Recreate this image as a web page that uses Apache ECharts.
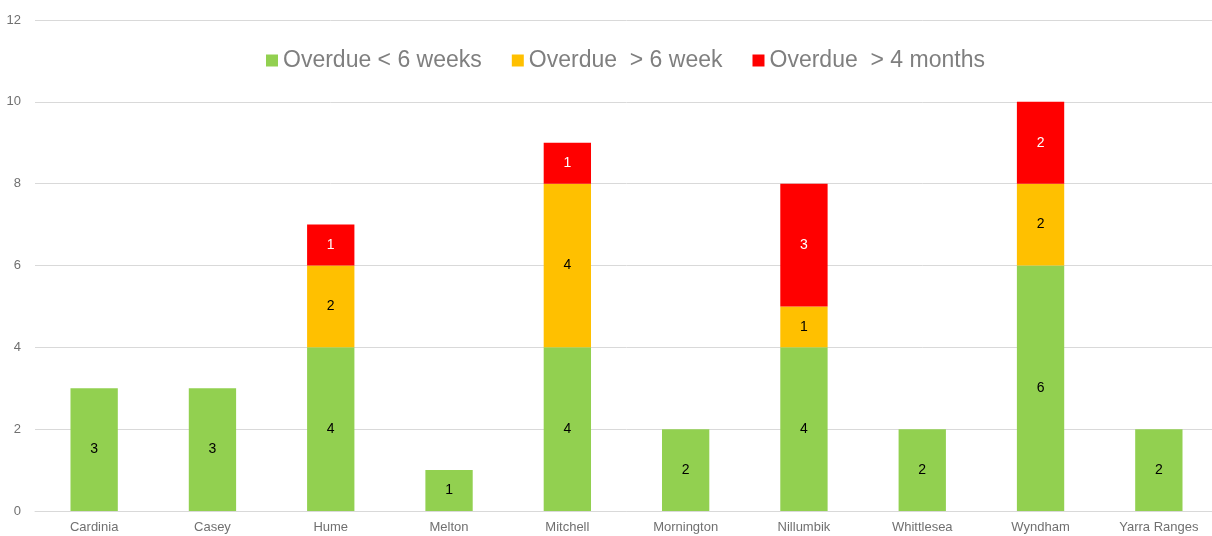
<!DOCTYPE html>
<html>
<head>
<meta charset="utf-8">
<script src="https://cdn.jsdelivr.net/npm/echarts@6/dist/echarts.min.js"></script>
<style>
  html, body { margin: 0; padding: 0; background: #fff; overflow: hidden; }
  #chart { width: 1218px; height: 536px; }
</style>
</head>
<body>
<div id="chart"></div>
<script>
// councils and overdue counts
var councils = ['Cardinia', 'Casey', 'Hume', 'Melton', 'Mitchell', 'Mornington', 'Nillumbik', 'Whittlesea', 'Wyndham', 'Yarra Ranges'];
var under6Weeks = [3, 3, 4, 1, 4, 2, 4, 2, 6, 2];
var over6Weeks = [null, null, 2, null, 4, null, 1, null, 2, null];
var over4Months = [null, null, 1, null, 1, null, 3, null, 2, null];
var seriesNames = ['Overdue < 6 weeks', 'Overdue  > 6 week', 'Overdue  > 4 months'];
var yTicks = { min: 0, max: 12, step: 2 };

var chart = echarts.init(document.getElementById('chart'));

function barSeries(name, data, color, labelColor) {
    return {
        name: name,
        type: 'bar',
        stack: 'total',
        barWidth: '40%',
        data: data,
        itemStyle: { color: color },
        label: {
            show: true,
            position: 'inside',
            color: labelColor,
            fontSize: 14,
            fontFamily: 'Liberation Sans, Arial, sans-serif'
        }
    };
}

var option = {
    animation: false,
    textStyle: { fontFamily: 'Liberation Sans, Arial, sans-serif' },
    legend: {
        top: 44,
        left: 261,
        itemWidth: 12,
        itemHeight: 12,
        itemGap: 30,
        icon: 'rect',
        textStyle: { color: '#7f7f7f', fontSize: 23 },
        data: seriesNames
    },
    // chart is 6px wider than the window, the last column runs off the edge
    grid: { left: 35, top: 20, right: 0, bottom: 25 },
    xAxis: {
        type: 'category',
        data: councils,
        axisTick: { show: false },
        axisLine: { lineStyle: { color: '#d9d9d9' } },
        axisLabel: { color: '#707070', fontSize: 13, margin: 10 }
    },
    yAxis: {
        type: 'value',
        min: yTicks.min,
        max: yTicks.max,
        interval: yTicks.step,
        axisLine: { show: false },
        axisTick: { show: false },
        axisLabel: { color: '#707070', fontSize: 13, margin: 14 },
        splitLine: { lineStyle: { color: '#d9d9d9' } }
    },
    series: [
        barSeries(seriesNames[0], under6Weeks, '#92d050', '#000'),
        barSeries(seriesNames[1], over6Weeks, '#ffc000', '#000'),
        barSeries(seriesNames[2], over4Months, '#ff0000', '#fff')
    ]
};
chart.setOption(option);
</script>
</body>
</html>
